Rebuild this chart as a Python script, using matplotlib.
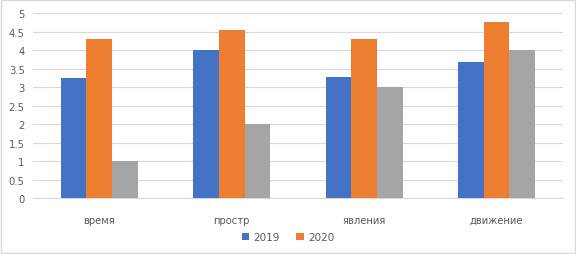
import matplotlib.pyplot as plt
import numpy as np

categories = ["время", "простр", "явления", "движение"]
s2019 = [3.25, 4.01, 3.28, 3.69]
s2020 = [4.31, 4.55, 4.31, 4.76]
s3 = [1.0, 2.0, 3.0, 4.0]

fig = plt.figure(figsize=(5.76, 2.55), dpi=100)
ax = fig.add_axes([0.0573, 0.2184, 0.9197, 0.7256])

x = np.arange(len(categories))
w = 0.194
ax.bar(x - w, s2019, w, color="#4472c4", label="2019", zorder=3)
ax.bar(x, s2020, w, color="#ed7d31", label="2020", zorder=3)
ax.bar(x + w, s3, w, color="#a5a5a5", zorder=3)

ax.set_xlim(-0.5, len(categories) - 0.5)
ax.set_ylim(0, 5)
ax.set_yticks(np.arange(0, 5.01, 0.5))
ax.set_yticklabels(["0", "0.5", "1", "1.5", "2", "2.5", "3", "3.5", "4", "4.5", "5"])
ax.set_xticks(x)
ax.set_xticklabels(categories)
ax.grid(axis="y", color="#d9d9d9", linewidth=0.8, zorder=0)
for s in ["top", "right", "left"]:
    ax.spines[s].set_visible(False)
ax.spines["bottom"].set_color("#d9d9d9")
ax.tick_params(axis="both", length=0, labelsize=7.2, colors="#595959")
ax.tick_params(axis="x", pad=12)
ax.tick_params(axis="y", pad=6)

h, l = ax.get_legend_handles_labels()
fig.legend(h, l, loc="center", bbox_to_anchor=(0.5, 0.065), ncol=2, frameon=False,
           fontsize=7.5, handlelength=0.7, handleheight=0.7, columnspacing=1.6,
           handletextpad=0.4, labelcolor="#595959")

fig.patches.append(plt.Rectangle((0.001, 0.002), 0.997, 0.995, transform=fig.transFigure,
                                 fill=False, edgecolor="#d9d9d9", linewidth=1))

fig.savefig("out.png", dpi=100)
